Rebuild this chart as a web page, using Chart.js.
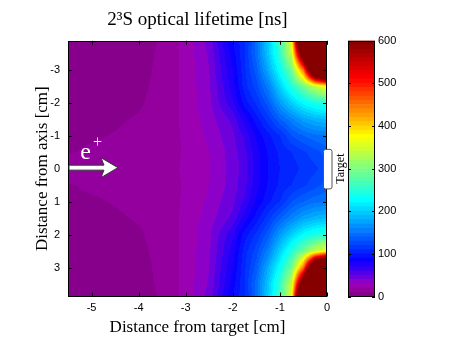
<!DOCTYPE html>
<html>
<head>
<meta charset="utf-8">
<script src="https://cdn.jsdelivr.net/npm/chart.js@4.4.1/dist/chart.umd.min.js"></script>
<style>
html, body { margin: 0; padding: 0; background: #fff; }
#wrap { position: relative; width: 450px; height: 350px; }
#main { position: absolute; left: 0; top: 0; }
#cbar { position: absolute; left: 348px; top: 0; }
</style>
</head>
<body>
<div id="wrap">
  <canvas id="main" width="450" height="350"></canvas>
  <canvas id="cbar" width="102" height="350"></canvas>
</div>
<script>
// grid nodes (cm)
var xNodes = [-5.5, -5, -4.5, -4, -3.5, -3, -2.5, -2, -1.75, -1.5, -1.25, -1, -0.75, -0.5, -0.25, 0];
var yNodes = [-3.9, -3.5, -3, -2.5, -2, -1.5, -1, -0.5, 0, 0.5, 1, 1.5, 2, 2.5, 3, 3.5, 3.9];

// lifetime [ns], one row per yNodes entry
var lifetime = [
  [7, 7, 7, 8, 10.5, 23.5, 44, 92, 107, 143, 199, 260, 365, 900, 1100, 1200],   // -3.9
  [7, 7, 7, 8, 11, 23.5, 41.5, 85, 110, 145, 195, 255, 345, 700, 1000, 1100],   // -3.5
  [7, 7, 7, 8, 11.5, 23.5, 40, 80, 108, 135, 180, 230, 290, 450, 800, 940],     // -3
  [7, 7, 7, 8.5, 12, 23, 38.5, 75, 105, 125, 155, 200, 245, 290, 340, 375],     // -2.5
  [7, 7, 7.5, 9, 13, 23, 37.5, 68, 95, 112, 135, 170, 200, 225, 240, 250],      // -2
  [7.5, 8, 9, 10.7, 14, 22.5, 35, 53, 75, 95, 115, 138, 157, 175, 185, 190],    // -1.5
  [8.5, 9.2, 10.4, 12, 15, 21.5, 32, 48, 62, 82, 97, 110, 130, 140, 147, 150],  // -1
  [9.5, 11, 12, 13.5, 16, 21, 30, 45, 57, 76, 91, 102, 110, 118, 126, 135],     // -0.5
  [14, 15, 15.5, 16, 17.5, 21, 30, 44, 55, 75, 90, 100, 106, 112, 118, 125],    // 0
  [9.5, 11, 12, 13.5, 16, 21, 30, 45, 57, 76, 91, 102, 110, 118, 126, 135],     // 0.5
  [8.5, 9.2, 10.4, 12, 15, 21.5, 32, 48, 62, 82, 97, 110, 130, 140, 147, 150],  // 1
  [7.5, 8, 9, 10.7, 14, 22.5, 35, 53, 75, 95, 115, 138, 157, 175, 185, 190],    // 1.5
  [7, 7, 7.5, 9, 13, 23, 37.5, 68, 95, 112, 135, 170, 200, 225, 240, 250],      // 2
  [7, 7, 7, 8.5, 12, 23, 38.5, 75, 105, 125, 155, 200, 245, 290, 340, 375],     // 2.5
  [7, 7, 7, 8, 11.5, 23.5, 40, 80, 108, 135, 180, 230, 290, 450, 800, 940],     // 3
  [7, 7, 7, 8, 11, 23.5, 41.5, 85, 110, 145, 195, 255, 345, 700, 1000, 1100],   // 3.5
  [7, 7, 7, 8, 10.5, 23.5, 44, 92, 107, 143, 199, 260, 365, 900, 1100, 1200]    // 3.9
];

var xTicks = [-5, -4, -3, -2, -1, 0];
var yTicks = [-3, -2, -1, 0, 1, 2, 3];
var cbTicks = [0, 100, 200, 300, 400, 500, 600];

var cbMin = 0, cbMax = 600, levelStep = 10;

var serif = "'Liberation Serif', 'DejaVu Serif', serif";
var sans = "'Liberation Sans', Arial, sans-serif";

// colormap (jet with a purple foot)
var cmapStops = [
  [0, 128, 0, 130], [15, 147, 0, 158], [25, 155, 0, 178], [35, 140, 0, 200],
  [45, 110, 0, 220], [65, 50, 0, 245], [85, 10, 0, 255], [110, 0, 45, 255],
  [225, 0, 255, 255], [300, 128, 255, 128], [375, 255, 255, 0],
  [442, 255, 128, 0], [510, 255, 0, 0], [600, 128, 0, 0]
];

function cmap(v) {
  if (v <= cmapStops[0][0]) return cmapStops[0].slice(1);
  for (var k = 1; k < cmapStops.length; k++) {
    var s1 = cmapStops[k];
    if (v <= s1[0]) {
      var s0 = cmapStops[k - 1];
      var t = (v - s0[0]) / (s1[0] - s0[0]);
      return [0, 1, 2].map(function (c) { return Math.round(s0[c + 1] + t * (s1[c + 1] - s0[c + 1])); });
    }
  }
  return cmapStops[cmapStops.length - 1].slice(1);
}

function levelColor(v) {
  var lv = Math.floor((v - cbMin) / levelStep);
  if (lv < 0) lv = 0;
  var nLev = (cbMax - cbMin) / levelStep;
  if (lv > nLev - 1) lv = nLev - 1;
  var c = cmap(cbMin + (lv + 0.5) * levelStep);
  return 'rgb(' + c[0] + ',' + c[1] + ',' + c[2] + ')';
}

function valueAt(x, y) {
  var i = 0, j = 0;
  while (i < xNodes.length - 2 && x > xNodes[i + 1]) i++;
  while (j < yNodes.length - 2 && y > yNodes[j + 1]) j++;
  var tx = (x - xNodes[i]) / (xNodes[i + 1] - xNodes[i]);
  var ty = (y - yNodes[j]) / (yNodes[j + 1] - yNodes[j]);
  tx = Math.max(0, Math.min(1, tx));
  ty = Math.max(0, Math.min(1, ty));
  var a = lifetime[j][i], b = lifetime[j][i + 1];
  var c = lifetime[j + 1][i], d = lifetime[j + 1][i + 1];
  return a * (1 - tx) * (1 - ty) + b * tx * (1 - ty) + c * (1 - tx) * ty + d * tx * ty;
}

var points = [];
for (var j = 0; j < yNodes.length; j++) {
  for (var i = 0; i < xNodes.length; i++) {
    points.push({ x: xNodes[i], y: yNodes[j], v: lifetime[j][i] });
  }
}

// annotation spots (cm)
var arrowTipX = -4.44, arrowBackX = -4.8;
var targetHalf = 0.6;

var fieldPlugin = {
  id: 'field',
  beforeDatasetsDraw: function (chart) {
    var ctx = chart.ctx, a = chart.chartArea;
    var xs = chart.scales.x, ys = chart.scales.y;
    var L = Math.round(a.left), R = Math.round(a.right), T = Math.round(a.top), B = Math.round(a.bottom);
    ctx.save();
    for (var py = T; py < B; py++) {
      var yv = ys.getValueForPixel(py + 0.5);
      var runStart = L, runCol = null;
      for (var px = L; px <= R; px++) {
        var col = px < R ? levelColor(valueAt(xs.getValueForPixel(px + 0.5), yv)) : null;
        if (col !== runCol) {
          if (runCol) { ctx.fillStyle = runCol; ctx.fillRect(runStart, py, px - runStart, 1); }
          runCol = col; runStart = px;
        }
      }
    }
    ctx.restore();
  },
  afterDraw: function (chart) {
    var ctx = chart.ctx, a = chart.chartArea;
    var xs = chart.scales.x, ys = chart.scales.y;
    ctx.save();
    ctx.strokeStyle = '#000';
    ctx.lineWidth = 1;
    // inward ticks
    ctx.beginPath();
    xTicks.forEach(function (v) {
      var p = Math.round(xs.getPixelForValue(v)) + 0.5;
      ctx.moveTo(p, a.top); ctx.lineTo(p, a.top + 4);
      ctx.moveTo(p, a.bottom); ctx.lineTo(p, a.bottom - 4);
    });
    yTicks.forEach(function (v) {
      var p = Math.round(ys.getPixelForValue(v)) + 0.5;
      ctx.moveTo(a.left, p); ctx.lineTo(a.left + 4, p);
      ctx.moveTo(a.right, p); ctx.lineTo(a.right - 4, p);
    });
    ctx.stroke();
    ctx.strokeRect(Math.round(a.left) + 0.5, Math.round(a.top) + 0.5,
      Math.round(a.right - a.left) - 1, Math.round(a.bottom - a.top) - 1);

    // e+ arrow
    var y0 = ys.getPixelForValue(0) - 1;
    var x0 = a.left + 1, xt = xs.getPixelForValue(arrowTipX), xb = xs.getPixelForValue(arrowBackX);
    ctx.beginPath();
    ctx.moveTo(x0, y0 - 2.5);
    ctx.lineTo(xb + 3, y0 - 2.5);
    ctx.lineTo(xb, y0 - 10);
    ctx.lineTo(xt, y0);
    ctx.lineTo(xb, y0 + 10);
    ctx.lineTo(xb + 3, y0 + 2.5);
    ctx.lineTo(x0, y0 + 2.5);
    ctx.closePath();
    ctx.fillStyle = '#fff';
    ctx.fill();
    ctx.strokeStyle = '#333';
    ctx.stroke();

    ctx.fillStyle = '#fff';
    ctx.textBaseline = 'alphabetic';
    ctx.textAlign = 'left';
    ctx.font = '24px ' + serif;
    ctx.fillText('e', xs.getPixelForValue(-5.24), ys.getPixelForValue(-0.28));
    ctx.font = '16px ' + serif;
    ctx.fillText('+', xs.getPixelForValue(-4.97), ys.getPixelForValue(-0.66));

    // target
    var tTop = ys.getPixelForValue(-targetHalf), tBot = ys.getPixelForValue(targetHalf);
    var tL = a.right - 4, tW = 8.5;
    ctx.beginPath();
    if (ctx.roundRect) ctx.roundRect(tL + 0.5, tTop + 0.5, tW, tBot - tTop, 2);
    else ctx.rect(tL + 0.5, tTop + 0.5, tW, tBot - tTop);
    ctx.fillStyle = '#fff';
    ctx.fill();
    ctx.strokeStyle = '#555';
    ctx.stroke();

    ctx.translate(a.right + 14, (tTop + tBot) / 2);
    ctx.rotate(-Math.PI / 2);
    ctx.fillStyle = '#000';
    ctx.font = '12px ' + serif;
    ctx.textAlign = 'center';
    ctx.textBaseline = 'middle';
    ctx.fillText('Target', 0, 0);
    ctx.restore();
  }
};

new Chart(document.getElementById('main'), {
  type: 'scatter',
  data: { datasets: [{ data: points, pointRadius: 0, pointHoverRadius: 0 }] },
  options: {
    responsive: false,
    animation: false,
    events: [],
    layout: { padding: { left: 0, right: 123, top: 0, bottom: 0 } },
    plugins: {
      legend: { display: false },
      tooltip: { enabled: false },
      title: {
        display: true, fullSize: false,
        text: '2³S optical lifetime [ns]',
        color: '#000',
        font: { family: serif, size: 19, weight: 'normal' },
        padding: { top: 9, bottom: 9 }
      }
    },
    scales: {
      x: {
        type: 'linear', min: -5.5, max: 0,
        afterFit: function (s) { s.height = 53.5; },
        afterBuildTicks: function (s) { s.ticks = xTicks.map(function (v) { return { value: v }; }); },
        grid: { display: false, drawTicks: false },
        border: { display: false },
        ticks: { color: '#000', font: { family: sans, size: 11 }, padding: 5, maxRotation: 0,
          callback: function (v) { return String(v); } },
        title: { display: true, text: 'Distance from target [cm]', color: '#000',
          font: { family: serif, size: 17 }, padding: { top: 0, bottom: 12 } }
      },
      y: {
        type: 'linear', min: -3.88, max: 3.88, reverse: true,
        afterFit: function (s) { s.width = 68; },
        afterBuildTicks: function (s) { s.ticks = yTicks.map(function (v) { return { value: v }; }); },
        grid: { display: false, drawTicks: false },
        border: { display: false },
        ticks: { color: '#000', font: { family: sans, size: 11 }, padding: 8,
          callback: function (v) { return String(v); } },
        title: { display: true, text: 'Distance from axis [cm]', color: '#000',
          font: { family: serif, size: 17 }, padding: { top: 32, bottom: 0 } }
      }
    }
  },
  plugins: [fieldPlugin]
});

// colour bar
var cbDatasets = [];
for (var lv = cbMin; lv < cbMax; lv += levelStep) {
  cbDatasets.push({
    data: [levelStep],
    backgroundColor: levelColor(lv + levelStep / 2),
    borderWidth: 0,
    barPercentage: 1,
    categoryPercentage: 1
  });
}

var cbFrame = {
  id: 'cbFrame',
  afterDatasetsDraw: function (chart) {
    var ctx = chart.ctx, a = chart.chartArea, ys = chart.scales.y;
    ctx.save();
    ctx.strokeStyle = '#000';
    ctx.lineWidth = 1;
    ctx.beginPath();
    cbTicks.forEach(function (v) {
      var p = Math.round(ys.getPixelForValue(v)) + 0.5;
      ctx.moveTo(a.left, p); ctx.lineTo(a.left + 3, p);
      ctx.moveTo(a.right, p); ctx.lineTo(a.right - 3, p);
    });
    ctx.stroke();
    ctx.strokeRect(Math.round(a.left) + 0.5, Math.round(a.top) + 0.5,
      Math.round(a.right - a.left) - 1, Math.round(a.bottom - a.top) - 1);
    ctx.restore();
  }
};

new Chart(document.getElementById('cbar'), {
  type: 'bar',
  data: { labels: [''], datasets: cbDatasets },
  options: {
    responsive: false,
    animation: false,
    events: [],
    layout: { padding: { left: 0, right: 0, top: 40.5, bottom: 53.5 } },
    plugins: { legend: { display: false }, tooltip: { enabled: false } },
    scales: {
      x: { display: false, stacked: true },
      y: {
        position: 'right', stacked: true, min: cbMin, max: cbMax,
        afterFit: function (s) { s.width = 75; },
        afterBuildTicks: function (s) { s.ticks = cbTicks.map(function (v) { return { value: v }; }); },
        grid: { display: false, drawTicks: false },
        border: { display: false },
        ticks: { color: '#000', font: { family: sans, size: 11 }, padding: 3,
          callback: function (v) { return String(v); } }
      }
    }
  },
  plugins: [cbFrame]
});
</script>
</body>
</html>
